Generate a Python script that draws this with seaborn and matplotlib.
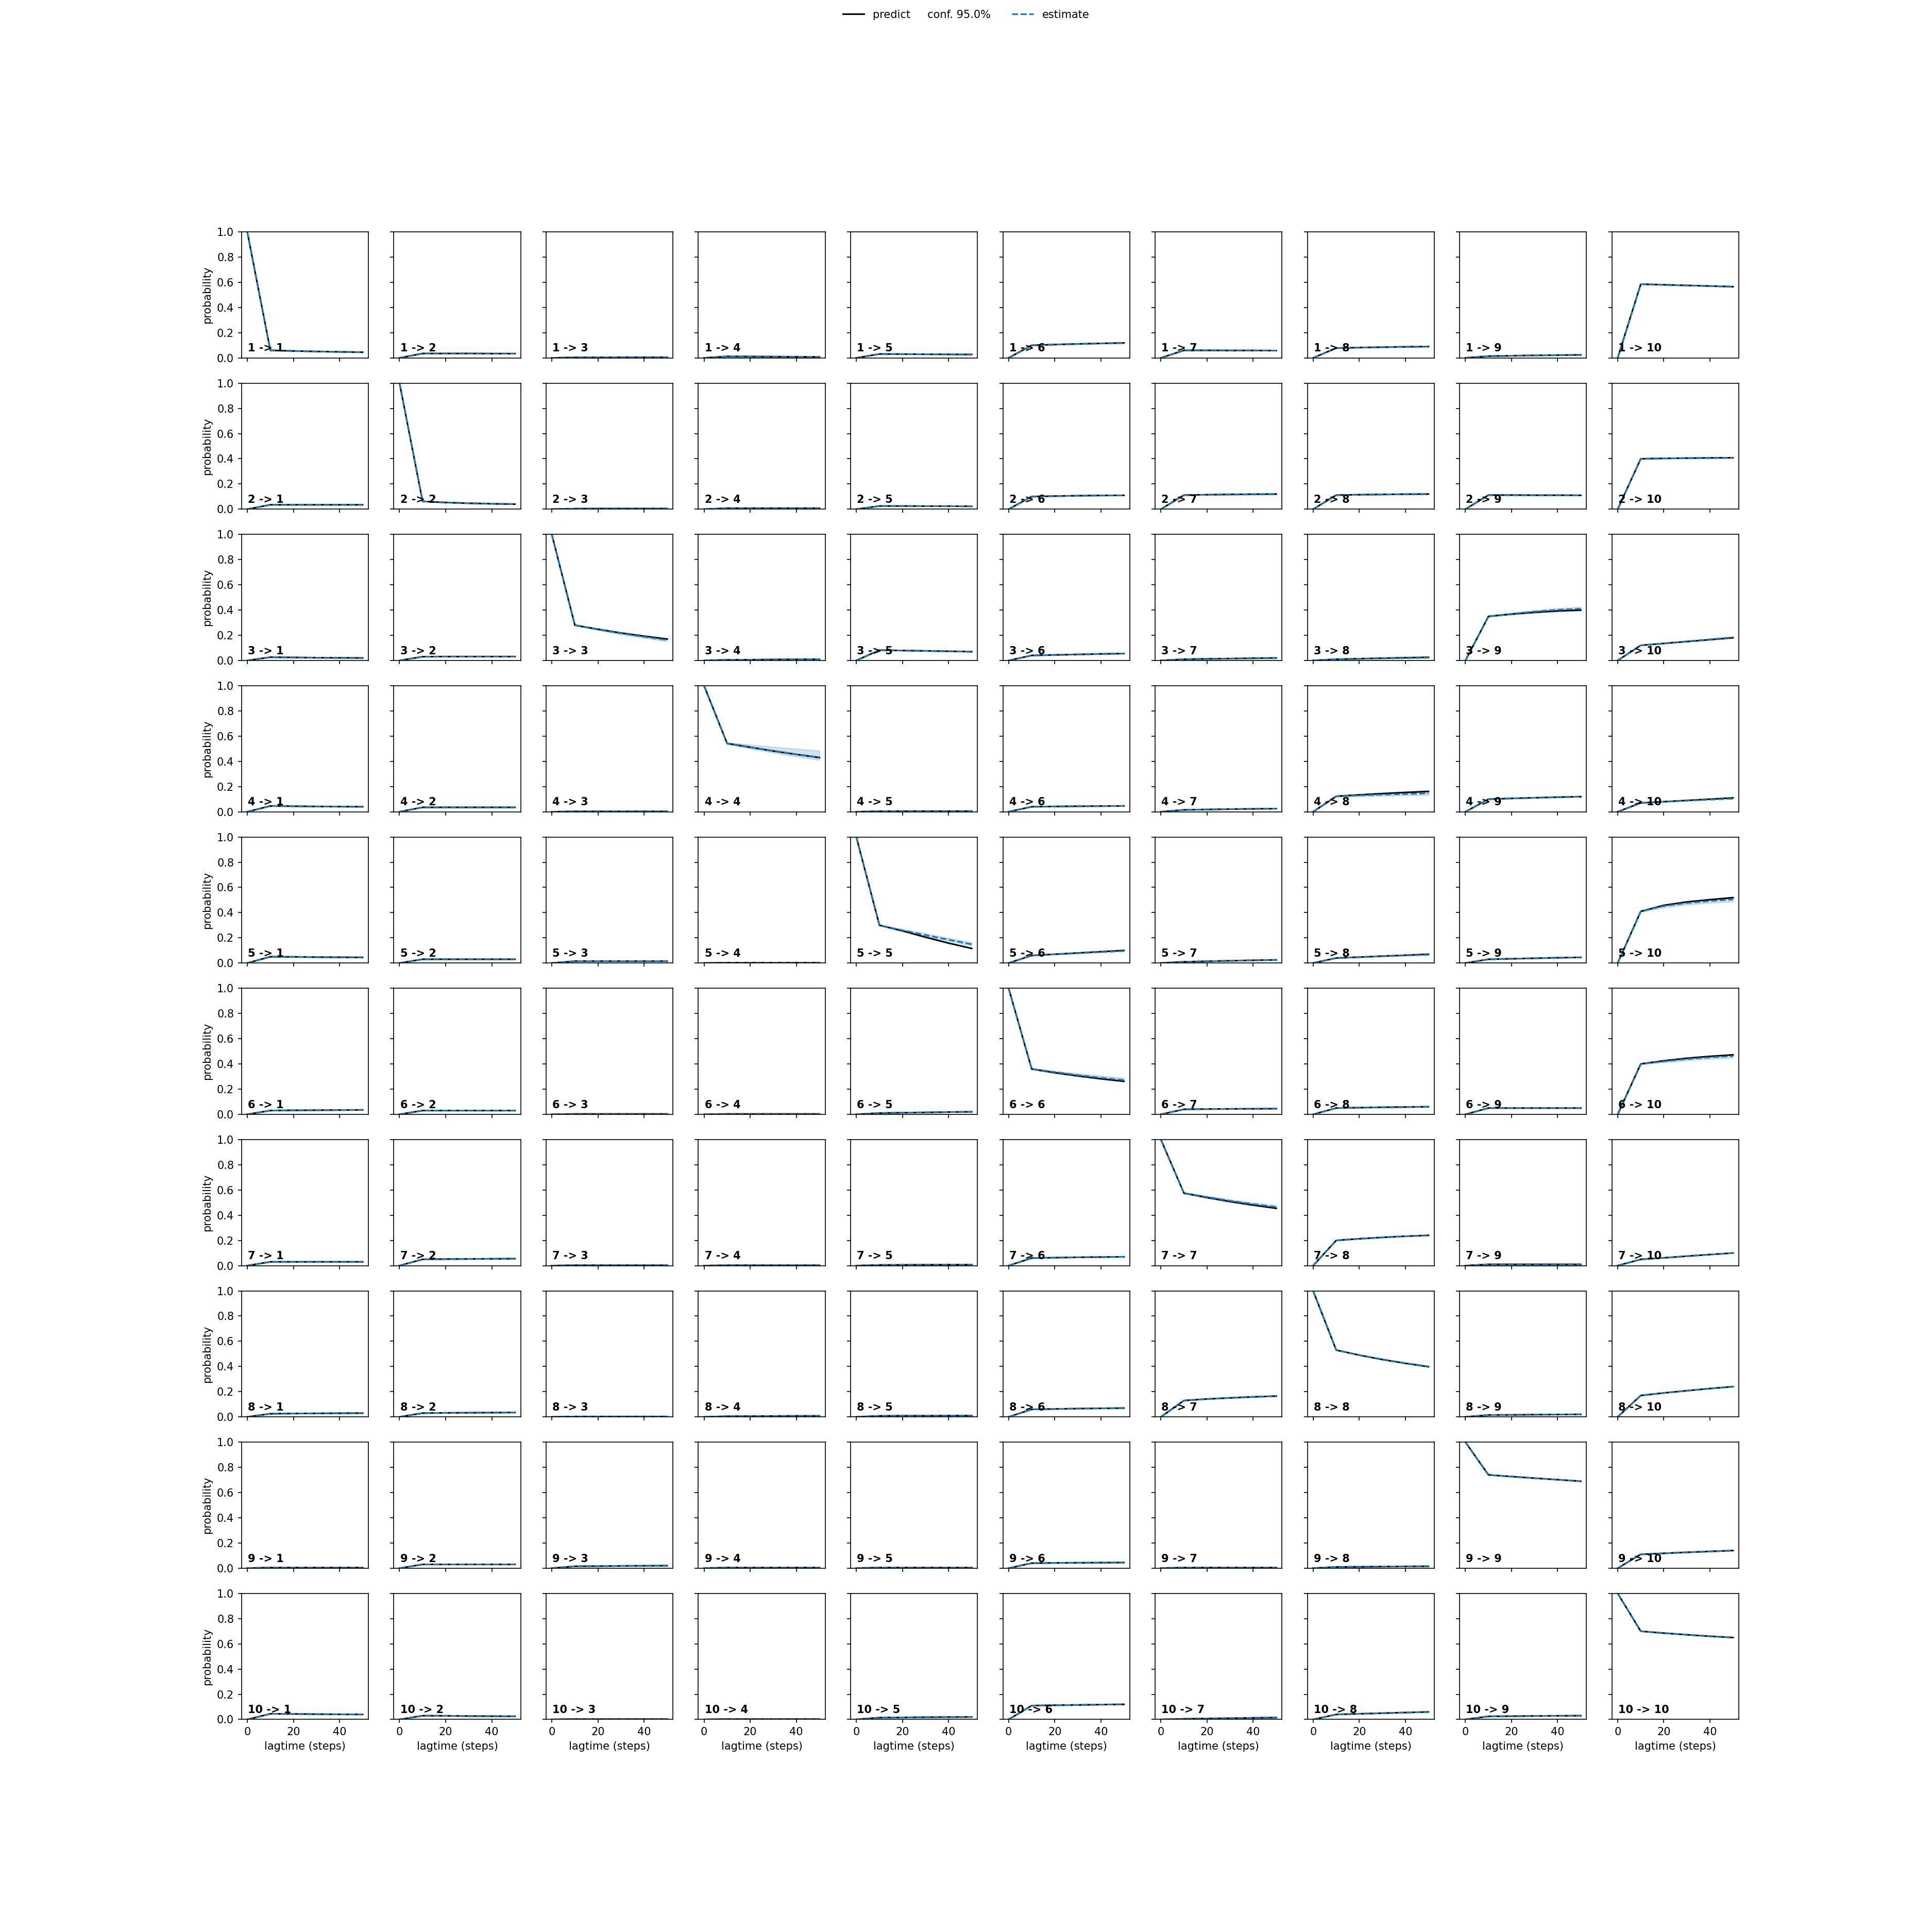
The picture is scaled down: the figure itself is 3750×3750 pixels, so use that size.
import matplotlib
matplotlib.use('Agg')
import matplotlib.pyplot as plt
import numpy as np
import seaborn as sns

lagtimes = [0, 10, 20, 30, 40, 50]
n_states = 10
conf_level = 95.0

# predicted transition probabilities, one list per target state
predict_1 = [
  [1.0, 0.060, 0.055, 0.051, 0.048, 0.045],
  [0.0, 0.035, 0.035, 0.035, 0.034, 0.034],
  [0.0, 0.004, 0.004, 0.005, 0.005, 0.005],
  [0.0, 0.012, 0.011, 0.010, 0.009, 0.008],
  [0.0, 0.031, 0.030, 0.029, 0.028, 0.027],
  [0.0, 0.100, 0.106, 0.111, 0.115, 0.119],
  [0.0, 0.060, 0.060, 0.059, 0.059, 0.058],
  [0.0, 0.078, 0.082, 0.085, 0.088, 0.090],
  [0.0, 0.014, 0.017, 0.020, 0.022, 0.024],
  [0.0, 0.585, 0.580, 0.575, 0.570, 0.565],
]
predict_2 = [
  [0.0, 0.035, 0.035, 0.035, 0.035, 0.035],
  [1.0, 0.062, 0.053, 0.047, 0.043, 0.040],
  [0.0, 0.004, 0.005, 0.005, 0.005, 0.005],
  [0.0, 0.008, 0.008, 0.008, 0.008, 0.008],
  [0.0, 0.025, 0.025, 0.024, 0.024, 0.023],
  [0.0, 0.100, 0.104, 0.107, 0.109, 0.110],
  [0.0, 0.112, 0.115, 0.117, 0.119, 0.120],
  [0.0, 0.112, 0.115, 0.117, 0.119, 0.120],
  [0.0, 0.112, 0.112, 0.111, 0.111, 0.110],
  [0.0, 0.400, 0.403, 0.405, 0.407, 0.408],
]
predict_3 = [
  [0.0, 0.026, 0.024, 0.022, 0.021, 0.020],
  [0.0, 0.030, 0.031, 0.031, 0.031, 0.031],
  [1.0, 0.280, 0.248, 0.218, 0.193, 0.170],
  [0.0, 0.005, 0.006, 0.008, 0.009, 0.010],
  [0.0, 0.082, 0.079, 0.076, 0.073, 0.070],
  [0.0, 0.040, 0.044, 0.048, 0.052, 0.055],
  [0.0, 0.010, 0.013, 0.015, 0.018, 0.020],
  [0.0, 0.010, 0.014, 0.018, 0.022, 0.025],
  [0.0, 0.350, 0.368, 0.382, 0.393, 0.400],
  [0.0, 0.120, 0.135, 0.150, 0.165, 0.180],
]
predict_4 = [
  [0.0, 0.046, 0.044, 0.042, 0.041, 0.040],
  [0.0, 0.035, 0.035, 0.035, 0.035, 0.035],
  [0.0, 0.003, 0.003, 0.003, 0.003, 0.003],
  [1.0, 0.542, 0.512, 0.482, 0.455, 0.430],
  [0.0, 0.004, 0.005, 0.005, 0.005, 0.005],
  [0.0, 0.040, 0.042, 0.044, 0.045, 0.046],
  [0.0, 0.015, 0.018, 0.021, 0.023, 0.025],
  [0.0, 0.123, 0.134, 0.144, 0.153, 0.161],
  [0.0, 0.100, 0.106, 0.111, 0.116, 0.120],
  [0.0, 0.070, 0.080, 0.090, 0.100, 0.110],
]
predict_5 = [
  [0.0, 0.050, 0.049, 0.047, 0.046, 0.045],
  [0.0, 0.030, 0.030, 0.030, 0.030, 0.030],
  [0.0, 0.015, 0.015, 0.015, 0.015, 0.015],
  [0.0, 0.003, 0.003, 0.003, 0.003, 0.003],
  [1.0, 0.300, 0.255, 0.205, 0.158, 0.116],
  [0.0, 0.060, 0.070, 0.080, 0.090, 0.100],
  [0.0, 0.010, 0.014, 0.018, 0.022, 0.025],
  [0.0, 0.040, 0.047, 0.055, 0.062, 0.070],
  [0.0, 0.030, 0.034, 0.038, 0.042, 0.045],
  [0.0, 0.410, 0.458, 0.485, 0.503, 0.519],
]
predict_6 = [
  [0.0, 0.030, 0.032, 0.033, 0.034, 0.035],
  [0.0, 0.030, 0.030, 0.030, 0.030, 0.030],
  [0.0, 0.003, 0.003, 0.003, 0.003, 0.003],
  [0.0, 0.003, 0.003, 0.003, 0.003, 0.003],
  [0.0, 0.010, 0.013, 0.015, 0.018, 0.020],
  [1.0, 0.360, 0.330, 0.305, 0.282, 0.262],
  [0.0, 0.040, 0.042, 0.043, 0.044, 0.045],
  [0.0, 0.050, 0.053, 0.056, 0.058, 0.060],
  [0.0, 0.050, 0.050, 0.050, 0.050, 0.050],
  [0.0, 0.400, 0.425, 0.445, 0.460, 0.472],
]
predict_7 = [
  [0.0, 0.030, 0.030, 0.030, 0.030, 0.030],
  [0.0, 0.050, 0.052, 0.053, 0.054, 0.055],
  [0.0, 0.003, 0.003, 0.003, 0.003, 0.003],
  [0.0, 0.003, 0.003, 0.003, 0.003, 0.003],
  [0.0, 0.005, 0.006, 0.007, 0.008, 0.008],
  [0.0, 0.060, 0.063, 0.066, 0.068, 0.070],
  [1.0, 0.575, 0.540, 0.508, 0.480, 0.455],
  [0.0, 0.200, 0.213, 0.224, 0.233, 0.240],
  [0.0, 0.010, 0.010, 0.010, 0.010, 0.010],
  [0.0, 0.050, 0.062, 0.075, 0.088, 0.100],
]
predict_8 = [
  [0.0, 0.025, 0.027, 0.028, 0.029, 0.030],
  [0.0, 0.030, 0.032, 0.033, 0.034, 0.035],
  [0.0, 0.003, 0.003, 0.003, 0.003, 0.003],
  [0.0, 0.005, 0.006, 0.007, 0.008, 0.008],
  [0.0, 0.008, 0.009, 0.009, 0.010, 0.010],
  [0.0, 0.060, 0.063, 0.066, 0.068, 0.070],
  [0.0, 0.130, 0.142, 0.151, 0.159, 0.165],
  [1.0, 0.530, 0.490, 0.455, 0.425, 0.398],
  [0.0, 0.015, 0.016, 0.018, 0.019, 0.020],
  [0.0, 0.170, 0.190, 0.208, 0.225, 0.240],
]
predict_9 = [
  [0.0, 0.005, 0.005, 0.005, 0.005, 0.005],
  [0.0, 0.030, 0.030, 0.030, 0.030, 0.030],
  [0.0, 0.015, 0.016, 0.018, 0.019, 0.020],
  [0.0, 0.005, 0.005, 0.005, 0.005, 0.005],
  [0.0, 0.005, 0.005, 0.005, 0.005, 0.005],
  [0.0, 0.040, 0.042, 0.043, 0.044, 0.045],
  [0.0, 0.005, 0.005, 0.005, 0.005, 0.005],
  [0.0, 0.010, 0.011, 0.013, 0.014, 0.015],
  [1.0, 0.740, 0.727, 0.714, 0.702, 0.690],
  [0.0, 0.110, 0.118, 0.126, 0.133, 0.140],
]
predict_10 = [
  [0.0, 0.045, 0.044, 0.042, 0.041, 0.040],
  [0.0, 0.030, 0.029, 0.027, 0.026, 0.025],
  [0.0, 0.003, 0.003, 0.003, 0.003, 0.003],
  [0.0, 0.003, 0.003, 0.003, 0.003, 0.003],
  [0.0, 0.015, 0.016, 0.018, 0.019, 0.020],
  [0.0, 0.110, 0.113, 0.115, 0.118, 0.120],
  [0.0, 0.005, 0.008, 0.010, 0.013, 0.015],
  [0.0, 0.040, 0.045, 0.050, 0.055, 0.060],
  [0.0, 0.025, 0.026, 0.028, 0.029, 0.030],
  [1.0, 0.700, 0.685, 0.672, 0.660, 0.650],
]

# estimated transition probabilities
estimate_1 = [
  [1.0, 0.060, 0.055, 0.051, 0.048, 0.046],
  [0.0, 0.035, 0.035, 0.035, 0.035, 0.034],
  [0.0, 0.004, 0.004, 0.005, 0.005, 0.005],
  [0.0, 0.012, 0.011, 0.010, 0.009, 0.009],
  [0.0, 0.031, 0.030, 0.029, 0.028, 0.028],
  [0.0, 0.100, 0.106, 0.111, 0.115, 0.118],
  [0.0, 0.060, 0.060, 0.059, 0.059, 0.058],
  [0.0, 0.078, 0.082, 0.085, 0.088, 0.090],
  [0.0, 0.014, 0.017, 0.020, 0.022, 0.024],
  [0.0, 0.585, 0.580, 0.575, 0.570, 0.566],
]
estimate_2 = [
  [0.0, 0.035, 0.035, 0.035, 0.035, 0.035],
  [1.0, 0.062, 0.054, 0.048, 0.044, 0.041],
  [0.0, 0.004, 0.005, 0.005, 0.005, 0.005],
  [0.0, 0.008, 0.008, 0.008, 0.008, 0.008],
  [0.0, 0.025, 0.025, 0.024, 0.024, 0.023],
  [0.0, 0.100, 0.104, 0.107, 0.109, 0.110],
  [0.0, 0.112, 0.114, 0.116, 0.117, 0.118],
  [0.0, 0.112, 0.115, 0.117, 0.119, 0.120],
  [0.0, 0.112, 0.112, 0.111, 0.111, 0.110],
  [0.0, 0.400, 0.403, 0.405, 0.406, 0.407],
]
estimate_3 = [
  [0.0, 0.026, 0.024, 0.022, 0.021, 0.020],
  [0.0, 0.030, 0.031, 0.031, 0.031, 0.031],
  [1.0, 0.280, 0.246, 0.215, 0.188, 0.162],
  [0.0, 0.005, 0.006, 0.008, 0.009, 0.010],
  [0.0, 0.082, 0.079, 0.076, 0.073, 0.070],
  [0.0, 0.040, 0.044, 0.048, 0.052, 0.055],
  [0.0, 0.010, 0.012, 0.014, 0.016, 0.018],
  [0.0, 0.010, 0.013, 0.016, 0.019, 0.022],
  [0.0, 0.350, 0.370, 0.388, 0.402, 0.410],
  [0.0, 0.120, 0.136, 0.152, 0.168, 0.184],
]
estimate_4 = [
  [0.0, 0.046, 0.044, 0.042, 0.041, 0.040],
  [0.0, 0.035, 0.035, 0.035, 0.035, 0.035],
  [0.0, 0.003, 0.003, 0.003, 0.003, 0.003],
  [1.0, 0.542, 0.513, 0.484, 0.456, 0.432],
  [0.0, 0.004, 0.005, 0.005, 0.005, 0.005],
  [0.0, 0.040, 0.042, 0.044, 0.045, 0.046],
  [0.0, 0.015, 0.018, 0.021, 0.023, 0.025],
  [0.0, 0.123, 0.130, 0.136, 0.141, 0.146],
  [0.0, 0.100, 0.106, 0.111, 0.116, 0.120],
  [0.0, 0.070, 0.079, 0.088, 0.096, 0.104],
]
estimate_5 = [
  [0.0, 0.050, 0.049, 0.047, 0.046, 0.045],
  [0.0, 0.030, 0.030, 0.030, 0.030, 0.030],
  [0.0, 0.015, 0.015, 0.015, 0.015, 0.015],
  [0.0, 0.003, 0.003, 0.003, 0.003, 0.003],
  [1.0, 0.300, 0.260, 0.222, 0.185, 0.149],
  [0.0, 0.060, 0.069, 0.078, 0.087, 0.095],
  [0.0, 0.010, 0.014, 0.018, 0.021, 0.024],
  [0.0, 0.040, 0.047, 0.054, 0.060, 0.066],
  [0.0, 0.030, 0.034, 0.038, 0.042, 0.045],
  [0.0, 0.410, 0.452, 0.476, 0.492, 0.505],
]
estimate_6 = [
  [0.0, 0.030, 0.032, 0.033, 0.034, 0.035],
  [0.0, 0.030, 0.030, 0.030, 0.030, 0.030],
  [0.0, 0.003, 0.003, 0.003, 0.003, 0.003],
  [0.0, 0.003, 0.003, 0.003, 0.003, 0.003],
  [0.0, 0.010, 0.013, 0.015, 0.018, 0.020],
  [1.0, 0.360, 0.335, 0.311, 0.290, 0.272],
  [0.0, 0.040, 0.042, 0.043, 0.044, 0.045],
  [0.0, 0.050, 0.053, 0.056, 0.058, 0.060],
  [0.0, 0.050, 0.050, 0.050, 0.050, 0.050],
  [0.0, 0.400, 0.420, 0.438, 0.452, 0.462],
]
estimate_7 = [
  [0.0, 0.030, 0.030, 0.030, 0.030, 0.030],
  [0.0, 0.050, 0.052, 0.053, 0.054, 0.055],
  [0.0, 0.003, 0.003, 0.003, 0.003, 0.003],
  [0.0, 0.003, 0.003, 0.003, 0.003, 0.003],
  [0.0, 0.005, 0.006, 0.007, 0.008, 0.008],
  [0.0, 0.060, 0.063, 0.066, 0.068, 0.070],
  [1.0, 0.575, 0.544, 0.514, 0.488, 0.465],
  [0.0, 0.200, 0.213, 0.224, 0.233, 0.240],
  [0.0, 0.010, 0.010, 0.010, 0.010, 0.010],
  [0.0, 0.050, 0.062, 0.075, 0.088, 0.100],
]
estimate_8 = [
  [0.0, 0.025, 0.027, 0.028, 0.029, 0.030],
  [0.0, 0.030, 0.032, 0.033, 0.034, 0.035],
  [0.0, 0.003, 0.003, 0.003, 0.003, 0.003],
  [0.0, 0.005, 0.006, 0.007, 0.008, 0.008],
  [0.0, 0.008, 0.009, 0.009, 0.010, 0.010],
  [0.0, 0.060, 0.063, 0.066, 0.068, 0.070],
  [0.0, 0.130, 0.142, 0.151, 0.159, 0.165],
  [1.0, 0.530, 0.491, 0.457, 0.427, 0.400],
  [0.0, 0.015, 0.016, 0.018, 0.019, 0.020],
  [0.0, 0.170, 0.190, 0.208, 0.225, 0.240],
]
estimate_9 = [
  [0.0, 0.005, 0.005, 0.005, 0.005, 0.005],
  [0.0, 0.030, 0.030, 0.030, 0.030, 0.030],
  [0.0, 0.015, 0.016, 0.018, 0.019, 0.020],
  [0.0, 0.005, 0.005, 0.005, 0.005, 0.005],
  [0.0, 0.005, 0.005, 0.005, 0.005, 0.005],
  [0.0, 0.040, 0.042, 0.043, 0.044, 0.045],
  [0.0, 0.005, 0.005, 0.005, 0.005, 0.005],
  [0.0, 0.010, 0.011, 0.013, 0.014, 0.015],
  [1.0, 0.740, 0.727, 0.714, 0.702, 0.690],
  [0.0, 0.110, 0.118, 0.126, 0.133, 0.140],
]
estimate_10 = [
  [0.0, 0.045, 0.044, 0.042, 0.041, 0.040],
  [0.0, 0.030, 0.029, 0.027, 0.026, 0.025],
  [0.0, 0.003, 0.003, 0.003, 0.003, 0.003],
  [0.0, 0.003, 0.003, 0.003, 0.003, 0.003],
  [0.0, 0.015, 0.016, 0.018, 0.019, 0.020],
  [0.0, 0.110, 0.113, 0.115, 0.118, 0.120],
  [0.0, 0.005, 0.008, 0.010, 0.013, 0.015],
  [0.0, 0.040, 0.045, 0.050, 0.055, 0.060],
  [0.0, 0.025, 0.026, 0.028, 0.029, 0.030],
  [1.0, 0.700, 0.686, 0.673, 0.661, 0.651],
]

# visible confidence bands of the estimates (lower, upper)
estimate_conf = {
  (3, 3): ([1.0, 0.277, 0.240, 0.207, 0.178, 0.152], [1.0, 0.283, 0.252, 0.223, 0.198, 0.174]),
  (3, 9): ([0.0, 0.347, 0.362, 0.377, 0.388, 0.393], [0.0, 0.353, 0.377, 0.398, 0.414, 0.424]),
  (4, 4): ([1.0, 0.535, 0.500, 0.468, 0.438, 0.410], [1.0, 0.548, 0.532, 0.515, 0.500, 0.485]),
  (4, 8): ([0.0, 0.118, 0.122, 0.126, 0.130, 0.133], [0.0, 0.128, 0.140, 0.152, 0.162, 0.170]),
  (5, 5): ([1.0, 0.298, 0.255, 0.213, 0.175, 0.137], [1.0, 0.302, 0.268, 0.235, 0.199, 0.164]),
  (5, 10): ([0.0, 0.405, 0.440, 0.463, 0.477, 0.488], [0.0, 0.415, 0.460, 0.485, 0.502, 0.515]),
  (6, 6): ([1.0, 0.355, 0.326, 0.300, 0.278, 0.258], [1.0, 0.365, 0.344, 0.324, 0.306, 0.290]),
  (6, 10): ([0.0, 0.396, 0.413, 0.428, 0.440, 0.448], [0.0, 0.404, 0.427, 0.447, 0.463, 0.474]),
  (7, 7): ([1.0, 0.570, 0.536, 0.504, 0.476, 0.452], [1.0, 0.580, 0.552, 0.525, 0.500, 0.478]),
}

predict = [predict_1, predict_2, predict_3, predict_4, predict_5,
           predict_6, predict_7, predict_8, predict_9, predict_10]
estimate = [estimate_1, estimate_2, estimate_3, estimate_4, estimate_5,
            estimate_6, estimate_7, estimate_8, estimate_9, estimate_10]

fig, axes = plt.subplots(n_states, n_states, sharex=True, sharey=True, figsize=(25, 25))
blue = sns.color_palette()[0]

for i in range(n_states):
  for j in range(n_states):
    ax = axes[i, j]
    sns.lineplot(x=lagtimes, y=predict[i][j], color='black', ax=ax, legend=False)
    sns.lineplot(x=lagtimes, y=estimate[i][j], color=blue, linestyle='dashed', ax=ax, legend=False)
    if (i + 1, j + 1) in estimate_conf:
      lo, hi = estimate_conf[(i + 1, j + 1)]
      ax.fill_between(lagtimes, lo, hi, color=blue, alpha=0.2)
    ax.text(0.05, 0.05, str(i + 1) + ' -> ' + str(j + 1), transform=ax.transAxes, weight='bold')
    ax.set_ylim(0, 1)
    ax.set_xlabel('')
    ax.set_ylabel('')
    if j == 0:
      ax.set_ylabel('probability')
    if i == n_states - 1:
      ax.set_xlabel('lagtime (steps)')

lest = axes[0, 0].lines[0]
lpred = axes[0, 0].lines[1]
predlabel = 'predict     conf. %3.1f%%' % conf_level
fig.legend((lest, lpred), (predlabel, 'estimate'), loc='upper center', ncol=2, frameon=False)

plt.savefig('out.png', dpi=150)
